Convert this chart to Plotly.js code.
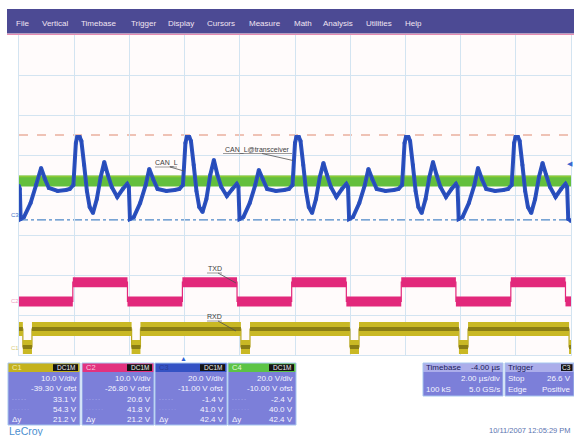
<!DOCTYPE html>
<html>
<head>
<meta charset="utf-8">
<script src="https://cdn.plot.ly/plotly-3.0.1.min.js"></script>
<style>html,body{margin:0;padding:0;background:#fff;}#chart{width:574px;height:436px;}</style>
</head>
<body>
<div id="chart"></div>
<script>
// ---------------- DATA ----------------
// time in microseconds (2 us/div), voltages in volts per channel
const timeC3 = [0.00,0.03,0.06,0.18,0.42,0.62,0.80,0.94,1.08,1.40,1.70,
 1.84,1.97,2.06,2.11,2.20,2.26,2.36,2.46,2.56,2.68,2.82,2.96,3.09,3.22,3.36,3.56,3.76,3.92,3.98,4.02,4.16,4.39,4.59,4.72,4.86,5.02,5.34,5.64,
 5.81,5.94,6.03,6.08,6.17,6.23,6.33,6.43,6.53,6.65,6.79,6.93,7.06,7.19,7.33,7.53,7.73,7.89,7.95,7.99,8.13,8.36,8.56,8.69,8.83,8.99,9.31,9.61,
 9.78,9.91,10.00,10.05,10.14,10.20,10.30,10.40,10.50,10.62,10.76,10.90,11.03,11.16,11.30,11.50,11.70,11.86,11.92,11.96,12.10,12.33,12.53,12.66,12.80,12.96,13.28,13.58,
 13.75,13.88,13.97,14.02,14.11,14.17,14.27,14.37,14.47,14.59,14.73,14.87,15.00,15.13,15.27,15.47,15.67,15.83,15.89,15.93,16.07,16.30,16.50,16.63,16.77,16.93,17.25,17.55,
 17.72,17.85,17.94,17.99,18.08,18.14,18.24,18.34,18.44,18.56,18.70,18.84,18.97,19.10,19.24,19.44,19.64,19.80,19.86,19.90,20.00];
const voltC3 = [15.5,14,-1,0,7,16,24.5,19,14.5,13,13.5,
 14,16,37,40,40,38,26,13,5,2,9,20,27.5,21,15,10,14,16.5,15,-1,0,7,16,24,19,14,13,13.5,
 14,16,37,40,40,38,26,13,5,2.5,9,21,28.5,21,15,10.5,14,16.5,15,-1,0,7,16,23.5,19,14,13,13.5,
 14,16,37,40,40,38,26,13,5,2,9,20,27,21,15,10,14,16.5,15,-1,0,7,16,24,19,14,13,13.5,
 14,16,37,40,40,38,26,13,5,2,9,20,27.5,21,15,10,14,16.5,15,-1,0,7,16,24.5,19,14,13,13.5,
 14,16,37,40,40,38,26,13,5,2,9,20,27,21,15,10,14,16.5,15,-1,-2];

const timeC4 = [0, 20];
const voltC4 = [17, 17];

const timeTXD = [0,1.95,1.95,3.93,3.93,5.92,5.92,7.90,7.90,9.88,9.88,11.86,11.86,13.85,13.85,15.83,15.83,17.82,17.82,19.80,19.80,20];
const voltTXD = [0.2,0.2,5,5,0.2,0.2,5,5,0.2,0.2,5,5,0.2,0.2,5,5,0.2,0.2,5,5,0.2,0.2];

const timeRXD = [0,0.14,0.14,0.47,0.47,4.08,4.08,4.40,4.40,8.04,8.04,8.37,8.37,11.99,11.99,12.32,12.32,15.94,15.94,16.27,16.27,19.93,19.93,20];
const voltRXD = [5.8,5.8,1.3,1.3,5.8,5.8,1.3,1.3,5.8,5.8,1.3,1.3,5.8,5.8,1.3,1.3,5.8,5.8,1.3,1.3,5.8,5.8,1.3,1.3];

const cursorC3 = [41.0, -1.4];
const triggerLevel = 26.6;

const chNames = ['C1','C2','C3','C4'];
const chVdivNum = [10, 10, 20, 20];
const chOfstNum = [-39.30, -26.80, -11.00, -10.00];
const chVdiv = ['10.0 V/div','10.0 V/div','20.0 V/div','20.0 V/div'];
const chOfst = ['-39.30 V ofst','-26.80 V ofst','-11.00 V ofst','-10.00 V ofst'];
const chCur1 = ['33.1 V','20.6 V','-1.4 V','-2.4 V'];
const chCur2 = ['54.3 V','41.8 V','41.0 V','40.0 V'];
const chDelta = ['21.2 V','21.2 V','42.4 V','42.4 V'];
const menuItems = ['File','Vertical','Timebase','Trigger','Display','Cursors','Measure','Math','Analysis','Utilities','Help'];
const timebaseText = ['Timebase','-4.00 µs','2.00 µs/div','100 kS','5.0 GS/s'];
const triggerText = ['Trigger','C3','Stop','26.6 V','Edge','Positive'];
const dateText = '10/11/2007 12:05:29 PM';

// ---------------- LAYOUT HELPERS ----------------
const FONT = 'Liberation Sans, Arial, sans-serif';
function P(x){return (x-19)/552;}
function Q(y){return (355-y)/320;}
function rng(i){const c=-chOfstNum[i];return [c-4*chVdivNum[i], c+4*chVdivNum[i]];}
const shapes = [];
const annotations = [];
function rect(x0,y0,x1,y1,fill,lc){
  shapes.push({type:'rect',xref:'paper',yref:'paper',x0:P(x0),x1:P(x1),y0:Q(y1),y1:Q(y0),
    fillcolor:fill||'rgba(0,0,0,0)',line:{width:lc?1:0,color:lc||'rgba(0,0,0,0)'},layer:'above'});
}
function seg(x0,y0,x1,y1,color,w){
  shapes.push({type:'line',xref:'paper',yref:'paper',x0:P(x0),x1:P(x1),y0:Q(y0),y1:Q(y1),
    line:{color:color,width:w||0.8},layer:'above'});
}
function txt(x,y,s,size,color,anchor){
  annotations.push({xref:'paper',yref:'paper',x:P(x),y:Q(y),text:s,showarrow:false,
    xanchor:anchor||'left',yanchor:'middle',borderpad:0,
    font:{size:size,color:color,family:FONT}});
}
function bands(t,v){
  const x=[],y=[];
  for(let i=0;i<t.length-1;i++){
    if(v[i]===v[i+1]){x.push(t[i],t[i+1],null);y.push(v[i],v[i+1],null);}
  }
  return {x:x,y:y};
}

// menu bar
rect(7,9,574,33.5,'#4c4a94');
seg(7,34.3,574,34.3,'#e58bb0',1.2);
const menuX = [14.5,41,80,130,166.5,206,248,293,321.5,365,404];
menuItems.forEach((m,i)=>txt(menuX[i],23.5,m,8,'#f1e4f2','left'));

// channel panels
const panelX = [[8,80],[82,154],[155,227],[228,296]];
const headColors = ['#c4b21e','#e2327f','#3452c4','#5cc446'];
const headText = ['#f2eab0','#f9c6dc','#2c3c96','#e4f8dc'];
const body = '#7c7fd9';
panelX.forEach((p,i)=>{
  const [x0,x1]=p;
  rect(x0,363,x1,372,headColors[i]);
  rect(x0,372,x1,425,body);
  rect(x0,363,x1,425,null,'#a6c6ee');
  txt(x0+3,367.6,chNames[i],7.5,headText[i],'left');
  rect(x1-27,364.2,x1-2,371,'#141414');
  txt(x1-14.5,367.7,'DC1M',6.5,'#f0f0f0','center');
  txt(x1-2,378.5,chVdiv[i],8,'#f4f4ff','right');
  txt(x1-2,388.8,chOfst[i],8,'#f4f4ff','right');
  txt(x1-2,399.2,chCur1[i],8,'#f4f4ff','right');
  txt(x1-2,409.3,chCur2[i],8,'#f4f4ff','right');
  txt(x1-2,419.3,chDelta[i],8,'#f4f4ff','right');
  txt(x0+3,399.2,'- - - - -',5,'#b8bcf0','left');
  txt(x0+3,409.3,'· · · · · ·',5,'#b8bcf0','left');
  txt(x0+3,419.3,'Δy',8,'#f4f4ff','left');
});

// timebase box
rect(423,363,503,372,'#abadea');
rect(423,372,503,396,body);
rect(423,363,503,396,null,'#a6c6ee');
txt(425,367.7,timebaseText[0],8,'#20205a','left');
txt(501,367.7,timebaseText[1],8,'#20205a','right');
txt(501,378.5,timebaseText[2],8,'#f4f4ff','right');
txt(425,389,timebaseText[3],8,'#f4f4ff','left');
txt(501,389,timebaseText[4],8,'#f4f4ff','right');
// trigger box
rect(505,363,574,372,'#abadea');
rect(505,372,574,396,body);
rect(505,363,574,396,null,'#a6c6ee');
txt(507,367.7,triggerText[0],8,'#20205a','left');
rect(561,364.2,572.5,371,'#141414');
txt(566.8,367.7,triggerText[1],6.5,'#f0f0f0','center');
txt(507,378.5,triggerText[2],8,'#f4f4ff','left');
txt(572,378.5,triggerText[3],8,'#f4f4ff','right');
txt(507,389,triggerText[4],8,'#f4f4ff','left');
txt(572,389,triggerText[5],8,'#f4f4ff','right');

// footer
txt(8,430.5,'LeCroy',10.5,'#4b8fd0','left');
txt(572,430,dateText,7.5,'#5b74b0','right');

// trace labels with underline and leader
txt(166,162.5,'CAN_L',7,'#404040','center');
seg(155,167,177,167,'#707070',0.7);
seg(170,167,184,171,'#505050',0.8);
txt(257.5,149.5,'CAN_L@transceiver',7,'#404040','center');
seg(223,153.5,292,153.5,'#707070',0.7);
seg(262,153.5,293,160.5,'#505050',0.8);
txt(214.5,268.5,'TXD',7,'#404040','center');
seg(207,273,222,273,'#707070',0.7);
seg(218,273,236,283,'#505050',0.8);
txt(214.5,316.5,'RXD',7,'#404040','center');
seg(207,321,222,321,'#707070',0.7);
seg(218,321,236,331,'#505050',0.8);

// ground markers, trigger markers
txt(10,215,'C3',6,'#3f74c8','left');
txt(10,301,'C2',6,'#f0a2c4','left');
txt(10,348,'C1',6,'#d6cc7a','left');
annotations.push({xref:'paper',yref:'y2',x:1.0055,y:triggerLevel,text:'◀',showarrow:false,xanchor:'right',yanchor:'middle',borderpad:0,font:{size:7,color:'#3a68d0',family:'DejaVu Sans'}});
txt(183,358.5,'▲',7,'#2f62d6','center');

// cursors
shapes.push({type:'line',xref:'paper',yref:'y2',x0:0,x1:1,y0:cursorC3[0],y1:cursorC3[0],line:{color:'#e08a70',width:1.2,dash:'dash'},layer:'below'});
shapes.push({type:'line',xref:'paper',yref:'y2',x0:0,x1:1,y0:cursorC3[1],y1:cursorC3[1],line:{color:'#4d88c8',width:1.2,dash:'dashdot'},layer:'below'});

// ---------------- TRACES ----------------
const txdB = bands(timeTXD, voltTXD);
const rxdB = bands(timeRXD, voltRXD);
const traces = [
  {x:timeC4,y:voltC4,yaxis:'y',mode:'lines',line:{color:'#63bf3d',width:11},hoverinfo:'skip'},
  {x:timeC4,y:voltC4.map(v=>v+2.3),yaxis:'y',mode:'lines',line:{color:'#9fcf34',width:1.5},opacity:0.7,hoverinfo:'skip'},
  {x:timeC3,y:voltC3,yaxis:'y2',mode:'lines+markers',marker:{size:4,color:'#2b51c0'},line:{color:'#2b51c0',width:4,simplify:false},hoverinfo:'skip'},
  {x:timeC3,y:voltC3,yaxis:'y2',mode:'lines',line:{color:'#2548b4',width:1,simplify:false},hoverinfo:'skip'},
  {x:timeTXD,y:voltTXD,yaxis:'y3',mode:'lines',line:{color:'#e2287b',width:1.2},hoverinfo:'skip'},
  {x:txdB.x,y:txdB.y,yaxis:'y3',mode:'lines',connectgaps:false,line:{color:'#e2287b',width:10},hoverinfo:'skip'},
  {x:timeRXD,y:voltRXD,yaxis:'y4',mode:'lines',line:{color:'#b5a420',width:1.2},hoverinfo:'skip'},
  {x:rxdB.x,y:rxdB.y,yaxis:'y4',mode:'lines',connectgaps:false,line:{color:'#c9b824',width:14},hoverinfo:'skip'},
  {x:rxdB.x,y:rxdB.y,yaxis:'y4',mode:'lines',connectgaps:false,line:{color:'#8a7d14',width:4},hoverinfo:'skip'}
];

const gridC = '#d3e4f1';
const layout = {
  width:574,height:436,margin:{l:19,r:3,t:35,b:81,pad:0},
  paper_bgcolor:'#ffffff',plot_bgcolor:'#fffbfb',showlegend:false,
  font:{family:FONT},
  xaxis:{range:[0,20],tick0:0,dtick:2,showgrid:true,gridcolor:gridC,gridwidth:1,zeroline:false,
    showticklabels:false,ticks:'',showline:true,mirror:true,linecolor:gridC,fixedrange:true},
  yaxis:{range:rng(3),tick0:-chOfstNum[3],dtick:chVdivNum[3],showgrid:true,gridcolor:gridC,gridwidth:1,zeroline:false,
    showticklabels:false,ticks:'',showline:true,mirror:true,linecolor:gridC,fixedrange:true},
  yaxis2:{overlaying:'y',range:rng(2),visible:false,fixedrange:true},
  yaxis3:{overlaying:'y',range:rng(1),visible:false,fixedrange:true},
  yaxis4:{overlaying:'y',range:rng(0),visible:false,fixedrange:true},
  shapes:shapes,annotations:annotations
};
Plotly.newPlot('chart',traces,layout,{staticPlot:true,displayModeBar:false});
</script>
</body>
</html>
